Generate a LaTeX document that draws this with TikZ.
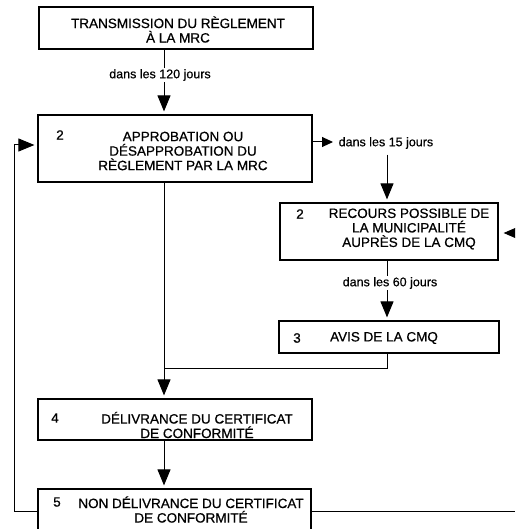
\documentclass[tikz,border=0pt]{standalone}
\usepackage{fontspec}
\setmainfont{Liberation Sans}
\newfontfamily\heavyfont[FakeBold=0.6]{Liberation Sans}
\usetikzlibrary{arrows.meta}
\begin{document}
\begin{tikzpicture}[x=1pt,y=-1pt,
  box/.style={draw, line width=1.2pt, inner sep=0pt, rectangle},
  txt/.style={inner sep=0pt, align=center, font=\heavyfont\fontsize{13.5}{14.5}\selectfont},
  lbl/.style={inner sep=1.5pt, fill=white, font=\heavyfont\fontsize{12.5}{14}\selectfont},
  conn/.style={line width=1pt},
  arr/.style={conn, -{Triangle[length=16pt,width=13pt]}, shorten >=3pt},
  sarr/.style={conn, -{Triangle[length=11pt,width=10pt]}},
]
\useasboundingbox (0,0) rectangle (515,529);
\clip (0,0) rectangle (515,529);

% boxes
\node[box, minimum width=274pt, minimum height=42pt] (b1) at (176,28) {};
\node[box, minimum width=274pt, minimum height=67pt] (b2) at (175,148.5) {};
\node[box, minimum width=218pt, minimum height=57pt] (b3) at (389,231.5) {};
\node[box, minimum width=220pt, minimum height=32pt] (b4) at (389,337) {};
\node[box, minimum width=274pt, minimum height=41pt] (b5) at (175,419.5) {};
\node[box, minimum width=273pt, minimum height=60pt] (b6) at (174.5,519) {};

% texts
\node[txt] (t1) at (178,29.5) {TRANSMISSION DU RÈGLEMENT\\À LA MRC};
\node[txt] (n2) at (60,135) {2};
\node[txt] (t2) at (183,151) {APPROBATION OU\\DÉSAPPROBATION DU\\RÈGLEMENT PAR LA MRC};
\node[txt] (n3) at (300,214) {2};
\node[txt] (t3) at (409,229) {RECOURS POSSIBLE DE\\LA MUNICIPALITÉ\\AUPRÈS DE LA CMQ};
\node[txt] (n4) at (297,338) {3};
\node[txt] (t4) at (384,338) {AVIS DE LA CMQ};
\node[txt] (n5) at (55,418) {4};
\node[txt] (t5) at (197,425) {DÉLIVRANCE DU CERTIFICAT\\DE CONFORMITÉ};
\node[txt] (n6) at (57,502) {5};
\node[txt] (t6) at (191,509.5) {NON DÉLIVRANCE DU CERTIFICAT\\DE CONFORMITÉ};

% helper coordinates
\coordinate (c1) at (164,0);
\coordinate (c3) at (387,0);
\coordinate (c2) at (0,142);
\coordinate (c2e) at (333,142);
\coordinate (m) at (164,368);
\coordinate (lp) at (14,511);
\coordinate (la) at (14,145);
\coordinate (rr) at (515,511);
\coordinate (ra) at (516,233);

% connectors
\draw[arr] (b1.south -| c1) -- (b2.north -| c1);
\node[lbl] (l120) at (160,75) {dans les 120 jours};

\draw[sarr] (b2.east |- c2) -- (c2e);
\node[lbl, anchor=west, fill=none] (l15) at (337,143) {dans les 15 jours};
\draw[arr, shorten <=4pt] (l15.south -| c3) -- (b3.north -| c3);

\draw[arr] (b3.south -| c3) -- (b4.north -| c3);
\node[lbl] (l60) at (390,283) {dans les 60 jours};

\draw[conn] (b4.south -| c3) |- (m);
\draw[arr] (b2.south -| c1) -- (b5.north -| c1);
\draw[arr] (b5.south -| c1) -- (b6.north -| c1);

\draw[arr] (b6.west |- lp) -- (lp) -- (la) -- (b2.west |- la);
\draw[conn] (b6.east |- rr) -- (rr);
\draw[conn, -{Triangle[length=13pt,width=11pt]}, shorten >=5pt] (ra) -- (b3.east |- ra);
\end{tikzpicture}
\end{document}
